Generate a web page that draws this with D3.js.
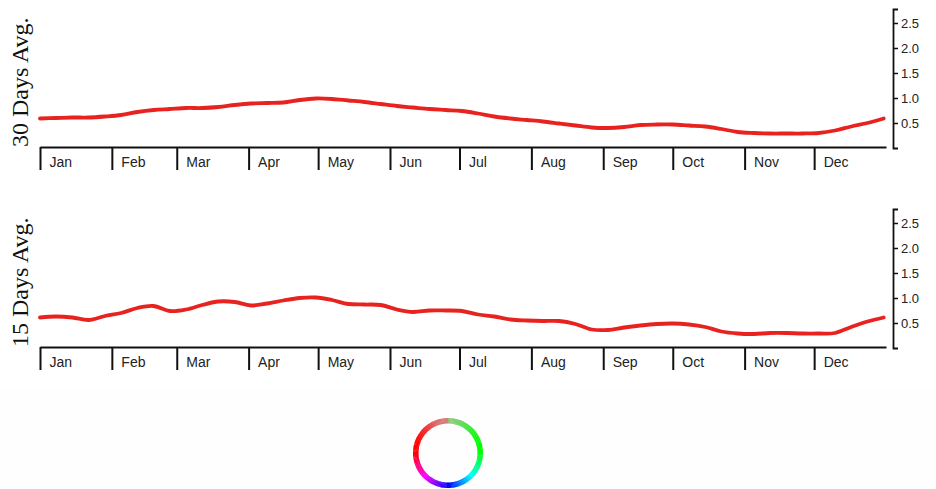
<!DOCTYPE html>
<html>
<head>
<meta charset="utf-8">
<script src="https://cdn.jsdelivr.net/npm/d3@7"></script>
<style>
  html, body { margin: 0; padding: 0; background: #ffffff; }
  svg { display: block; }
</style>
</head>
<body>
<svg id="chart" width="936" height="489"></svg>
<script>
// ---- data ----
const dayOfYear = [0,7,14,21,28,35,42,49,56,63,70,77,84,91,98,105,112,119,126,133,140,147,154,161,168,175,182,189,196,203,210,217,224,231,238,245,252,259,266,273,280,287,294,301,308,315,322,329,336,343,350,357,364];
const avg30 = [0.59,0.60,0.61,0.61,0.63,0.66,0.72,0.76,0.78,0.80,0.80,0.82,0.86,0.89,0.90,0.91,0.96,0.99,0.98,0.95,0.92,0.88,0.84,0.81,0.78,0.76,0.74,0.69,0.63,0.59,0.56,0.53,0.49,0.45,0.41,0.40,0.42,0.46,0.47,0.47,0.45,0.43,0.38,0.32,0.30,0.29,0.29,0.29,0.30,0.35,0.43,0.50,0.59];
const avg15 = [0.61,0.63,0.61,0.56,0.64,0.70,0.80,0.84,0.74,0.77,0.86,0.93,0.92,0.85,0.89,0.95,1.00,1.01,0.96,0.88,0.87,0.86,0.77,0.72,0.75,0.75,0.74,0.67,0.63,0.57,0.55,0.54,0.54,0.48,0.37,0.36,0.41,0.45,0.48,0.49,0.47,0.42,0.33,0.29,0.28,0.30,0.30,0.29,0.29,0.30,0.42,0.53,0.61];
const yTickValues = [0.5, 1.0, 1.5, 2.0, 2.5];
const panelLabels = ["30 Days Avg.", "15 Days Avg."];
const panelSeries = [avg30, avg15];

// ---- layout ----
const svg = d3.select("#chart");
const x0 = 40, x1 = 886;
const yearStart = new Date(2021, 0, 1), yearEnd = new Date(2022, 0, 1);
const x = d3.scaleTime().domain([yearStart, yearEnd]).range([x0, x1]);
const dates = dayOfYear.map(d => d3.timeDay.offset(yearStart, d));
const monthStarts = d3.timeMonth.range(yearStart, yearEnd);
const lineColor = "#e8231f";

svg.append("rect").attr("x", 0).attr("y", 390).attr("width", 936).attr("height", 99).attr("fill", "#fefefe");

panelSeries.forEach((vals, i) => {
  const off = i * 200;
  const y = d3.scaleLinear().domain([0, 2.78]).range([148 + off, 9 + off]);
  const g = svg.append("g");

  // line
  const line = d3.line()
    .x((d, k) => x(dates[k]))
    .y(d => y(d))
    .curve(d3.curveCatmullRom.alpha(0.5));
  g.append("path")
    .datum(vals)
    .attr("fill", "none")
    .attr("stroke", lineColor)
    .attr("stroke-width", 3.8)
    .attr("stroke-linecap", "round")
    .attr("stroke-linejoin", "round")
    .attr("d", line);

  // x axis
  const xAxis = d3.axisBottom(x)
    .tickValues(monthStarts)
    .tickFormat(d3.timeFormat("%b"))
    .tickSize(23)
    .tickSizeOuter(0);
  const gx = g.append("g")
    .attr("transform", `translate(0,${147 + off})`)
    .call(xAxis);
  gx.select(".domain").attr("stroke", "#111").attr("stroke-width", 2.2);
  gx.selectAll(".tick line").attr("stroke", "#111").attr("stroke-width", 2);
  gx.selectAll(".tick text")
    .attr("text-anchor", "start")
    .attr("x", 9)
    .attr("y", 10)
    .attr("fill", "#222")
    .style("font-family", "Liberation Sans, Arial, sans-serif")
    .style("font-size", "14px");

  // y axis on right
  const yAxis = d3.axisRight(y)
    .tickValues(yTickValues)
    .tickFormat(d3.format(".1f"))
    .tickSize(5)
    .tickSizeOuter(5);
  const gy = g.append("g")
    .attr("transform", "translate(893,0)")
    .call(yAxis);
  gy.select(".domain").attr("stroke", "#111").attr("stroke-width", 1.8);
  gy.selectAll(".tick line").attr("stroke", "#111").attr("stroke-width", 1.5);
  gy.selectAll(".tick text")
    .attr("x", 8)
    .attr("fill", "#222")
    .style("font-family", "Liberation Sans, Arial, sans-serif")
    .style("font-size", "13px");

  // panel label
  g.append("text")
    .attr("transform", `translate(28,${147 + off}) rotate(-90)`)
    .attr("text-anchor", "start")
    .attr("fill", "#111")
    .style("font-family", "Liberation Serif, Times New Roman, serif")
    .style("font-size", "24px")
    .text(panelLabels[i]);
});

// colour ring
const cx = 448, cy = 453, rOuter = 35, rInner = 29.5;
const arc = d3.arc().innerRadius(rInner).outerRadius(rOuter);
const nSeg = 180;
const topBlend = d3.interpolateRgb("#ff0000", "#00ff00");
const ring = svg.append("g").attr("transform", `translate(${cx},${cy})`);
for (let k = 0; k < nSeg; k++) {
  const a0 = (k / nSeg) * 2 * Math.PI;
  const a1 = ((k + 1.3) / nSeg) * 2 * Math.PI;
  const am = (a0 + a1) / 2;
  let col;
  if (am >= Math.PI / 2 && am <= 3 * Math.PI / 2) {
    const h = 120 + (am - Math.PI / 2) / Math.PI * 240;
    col = d3.hsl(h, 1, 0.5).toString();
  } else {
    let t = am >= 3 * Math.PI / 2 ? (am - 3 * Math.PI / 2) / Math.PI : (am + Math.PI / 2) / Math.PI;
    const base = d3.color(t < 0.5 ? "#ff0000" : "#00ff00");
    const fade = 1 - Math.pow(Math.sin(t * Math.PI), 3) * 0.7;
    const grey = d3.rgb(195, 180, 175);
    col = d3.interpolateRgb(grey, base)(fade).toString();
  }
  ring.append("path").attr("d", arc({startAngle: a0, endAngle: a1})).attr("fill", col);
}
</script>
</body>
</html>
